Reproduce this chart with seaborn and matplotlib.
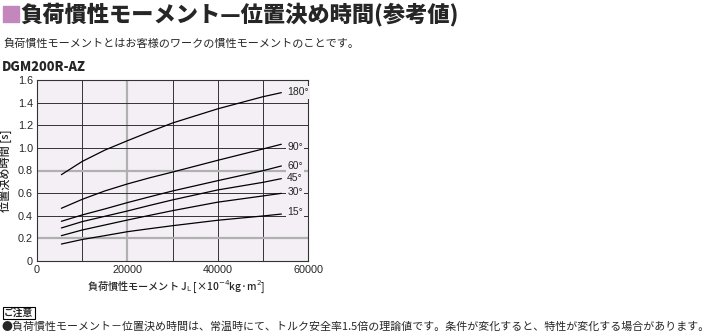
import matplotlib
matplotlib.use("Agg")
import matplotlib.pyplot as plt
import seaborn as sns
import pandas as pd
from matplotlib.patches import Rectangle

sns.set_style("white")
plt.rcParams['font.family'] = ['Noto Sans CJK JP', 'DejaVu Sans']

# Data
inertia = [5400, 10000, 15000, 20000, 25000, 30000, 40000, 50000, 54100]
angles = ["180°", "90°", "60°", "45°", "30°", "15°"]
t180 = [0.763, 0.880, 0.980, 1.063, 1.143, 1.220, 1.345, 1.452, 1.488]
t90 = [0.466, 0.545, 0.619, 0.681, 0.736, 0.786, 0.890, 0.990, 1.032]
t60 = [0.351, 0.407, 0.460, 0.516, 0.568, 0.619, 0.710, 0.798, 0.840]
t45 = [0.292, 0.348, 0.395, 0.442, 0.492, 0.540, 0.628, 0.695, 0.728]
t30 = [0.224, 0.274, 0.318, 0.362, 0.404, 0.445, 0.520, 0.575, 0.598]
t15 = [0.150, 0.190, 0.224, 0.259, 0.286, 0.312, 0.360, 0.398, 0.415]
label_y = [1.49, 1.01, 0.84, 0.737, 0.613, 0.43]
xticks = [0, 20000, 40000, 60000]
yticks = [0, 0.2, 0.4, 0.6, 0.8, 1.0, 1.2, 1.4, 1.6]
ytick_labels = ["0", "0.2", "0.4", "0.6", "0.8", "1.0", "1.2", "1.4", "1.6"]

series = [t180, t90, t60, t45, t30, t15]
df = pd.DataFrame({
    "x": inertia * len(angles),
    "y": sum(series, []),
    "angle": [a for a in angles for _ in inertia],
})

fig = plt.figure(figsize=(7.09, 3.36), dpi=100)
ax = fig.add_axes([37/709, 75/336, 271/709, 181/336])
bg = "#f4eff5"
ax.set_facecolor(bg)

# grid
for gx in [10000, 30000, 40000, 50000]:
    ax.axvline(gx, color="#333333", lw=0.7, zorder=1)
ax.axvline(20000, color="#b0b0b0", lw=1.6, zorder=1)
for gy in [0.4, 0.6, 1.0, 1.2, 1.4]:
    ax.axhline(gy, color="#333333", lw=0.7, zorder=1)
for gy in [0.2, 0.8]:
    ax.axhline(gy, color="#b0b0b0", lw=1.6, zorder=1)

sns.lineplot(data=df, x="x", y="y", units="angle", estimator=None,
             color="black", lw=0.9, ax=ax, legend=False, zorder=3)

for a, ly in zip(angles, label_y):
    ax.text(55400, ly, a, fontsize=7.5, ha="left", va="center", zorder=4,
            family=['Liberation Sans Narrow', 'Liberation Sans', 'DejaVu Sans'],
            bbox=dict(facecolor=bg, edgecolor="none", pad=0.8))

ax.set_xlim(0, 60000)
ax.set_ylim(0, 1.6)
ax.set_xticks(xticks)
ax.set_xticklabels([str(v) for v in xticks], fontsize=7.8,
                   family=['Liberation Sans', 'DejaVu Sans'])
ax.set_yticks(yticks)
ax.set_yticklabels(ytick_labels, fontsize=7.8,
                   family=['Liberation Sans', 'DejaVu Sans'])
ax.tick_params(length=0, pad=3)
for s in ax.spines.values():
    s.set_color("#333333")
    s.set_linewidth(0.8)
ax.set_xlabel("")
ax.set_ylabel("位置決め時間 [s]", fontsize=8, labelpad=4, fontweight="medium")
fig.text(176/709, 1 - 287/336, "負荷慣性モーメント J$_{\\mathrm{L}}$ [×10$^{-4}$kg·m$^{2}$]",
         fontsize=7.3, ha="center", va="center", fontweight="medium")

# title area
fig.patches.append(Rectangle((3/709, 1 - 22/336), 16/709, 16/336,
                             transform=fig.transFigure, color="#c386bd"))
fig.text(20/709, 1 - 14/336, "負荷慣性モーメント—位置決め時間(参考値)",
         fontsize=16, fontweight="black", ha="left", va="center")
fig.text(3/709, 1 - 44/336, "負荷慣性モーメントとはお客様のワークの慣性モーメントのことです。",
         fontsize=8, ha="left", va="center")
fig.text(2/709, 1 - 67/336, "DGM200R-AZ", fontsize=9.3, fontweight="black",
         ha="left", va="center")
fig.text(4/709, 1 - 313/336, "ご注意", fontsize=7, fontweight="bold",
         ha="left", va="center",
         bbox=dict(facecolor="none", edgecolor="black", lw=0.8, pad=1))
fig.text(1/709, 1 - 327/336,
         "●負荷慣性モーメント－位置決め時間は、常温時にて、トルク安全率1.5倍の理論値です。条件が変化すると、特性が変化する場合があります。",
         fontsize=7.9, ha="left", va="center")

fig.savefig("out.png", dpi=100)
